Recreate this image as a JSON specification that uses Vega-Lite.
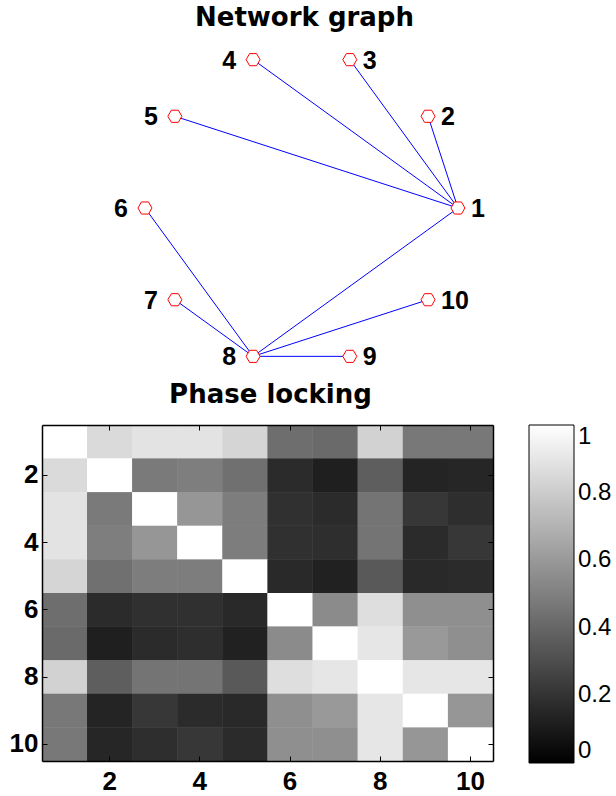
{
  "$schema": "https://vega.github.io/schema/vega-lite/v6.json",
  "padding": {"left": 8, "top": 5, "right": 2, "bottom": 0},
  "background": "white",
  "datasets": {
    "nodes": [
      {"id": 1, "x": 1, "y": 0},
      {"id": 2, "x": 0.809, "y": 0.588},
      {"id": 3, "x": 0.309, "y": 0.951},
      {"id": 4, "x": -0.309, "y": 0.951},
      {"id": 5, "x": -0.809, "y": 0.588},
      {"id": 6, "x": -1, "y": 0},
      {"id": 7, "x": -0.809, "y": -0.588},
      {"id": 8, "x": -0.309, "y": -0.951},
      {"id": 9, "x": 0.309, "y": -0.951},
      {"id": 10, "x": 0.809, "y": -0.588}
    ],
    "edges": [
      {"source": 1, "target": 2, "sx": 1, "sy": 0, "tx": 0.809, "ty": 0.588},
      {"source": 1, "target": 3, "sx": 1, "sy": 0, "tx": 0.309, "ty": 0.951},
      {"source": 1, "target": 4, "sx": 1, "sy": 0, "tx": -0.309, "ty": 0.951},
      {"source": 1, "target": 5, "sx": 1, "sy": 0, "tx": -0.809, "ty": 0.588},
      {"source": 1, "target": 8, "sx": 1, "sy": 0, "tx": -0.309, "ty": -0.951},
      {"source": 8, "target": 6, "sx": -0.309, "sy": -0.951, "tx": -1, "ty": 0},
      {"source": 8, "target": 7, "sx": -0.309, "sy": -0.951, "tx": -0.809, "ty": -0.588},
      {"source": 8, "target": 9, "sx": -0.309, "sy": -0.951, "tx": 0.309, "ty": -0.951},
      {"source": 8, "target": 10, "sx": -0.309, "sy": -0.951, "tx": 0.809, "ty": -0.588}
    ],
    "pl": [
      {"r":1,"c":1,"v":1},{"r":1,"c":2,"v":0.855},{"r":1,"c":3,"v":0.89},{"r":1,"c":4,"v":0.89},{"r":1,"c":5,"v":0.835},{"r":1,"c":6,"v":0.43},{"r":1,"c":7,"v":0.415},{"r":1,"c":8,"v":0.825},{"r":1,"c":9,"v":0.47},{"r":1,"c":10,"v":0.47},
      {"r":2,"c":1,"v":0.855},{"r":2,"c":2,"v":1},{"r":2,"c":3,"v":0.48},{"r":2,"c":4,"v":0.495},{"r":2,"c":5,"v":0.44},{"r":2,"c":6,"v":0.17},{"r":2,"c":7,"v":0.12},{"r":2,"c":8,"v":0.37},{"r":2,"c":9,"v":0.14},{"r":2,"c":10,"v":0.15},
      {"r":3,"c":1,"v":0.89},{"r":3,"c":2,"v":0.48},{"r":3,"c":3,"v":1},{"r":3,"c":4,"v":0.59},{"r":3,"c":5,"v":0.49},{"r":3,"c":6,"v":0.19},{"r":3,"c":7,"v":0.17},{"r":3,"c":8,"v":0.455},{"r":3,"c":9,"v":0.215},{"r":3,"c":10,"v":0.18},
      {"r":4,"c":1,"v":0.89},{"r":4,"c":2,"v":0.495},{"r":4,"c":3,"v":0.59},{"r":4,"c":4,"v":1},{"r":4,"c":5,"v":0.49},{"r":4,"c":6,"v":0.19},{"r":4,"c":7,"v":0.18},{"r":4,"c":8,"v":0.455},{"r":4,"c":9,"v":0.17},{"r":4,"c":10,"v":0.215},
      {"r":5,"c":1,"v":0.835},{"r":5,"c":2,"v":0.44},{"r":5,"c":3,"v":0.49},{"r":5,"c":4,"v":0.49},{"r":5,"c":5,"v":1},{"r":5,"c":6,"v":0.16},{"r":5,"c":7,"v":0.13},{"r":5,"c":8,"v":0.35},{"r":5,"c":9,"v":0.16},{"r":5,"c":10,"v":0.17},
      {"r":6,"c":1,"v":0.43},{"r":6,"c":2,"v":0.17},{"r":6,"c":3,"v":0.19},{"r":6,"c":4,"v":0.19},{"r":6,"c":5,"v":0.16},{"r":6,"c":6,"v":1},{"r":6,"c":7,"v":0.545},{"r":6,"c":8,"v":0.87},{"r":6,"c":9,"v":0.56},{"r":6,"c":10,"v":0.56},
      {"r":7,"c":1,"v":0.415},{"r":7,"c":2,"v":0.12},{"r":7,"c":3,"v":0.17},{"r":7,"c":4,"v":0.18},{"r":7,"c":5,"v":0.13},{"r":7,"c":6,"v":0.545},{"r":7,"c":7,"v":1},{"r":7,"c":8,"v":0.9},{"r":7,"c":9,"v":0.6},{"r":7,"c":10,"v":0.56},
      {"r":8,"c":1,"v":0.825},{"r":8,"c":2,"v":0.37},{"r":8,"c":3,"v":0.455},{"r":8,"c":4,"v":0.455},{"r":8,"c":5,"v":0.35},{"r":8,"c":6,"v":0.87},{"r":8,"c":7,"v":0.9},{"r":8,"c":8,"v":1},{"r":8,"c":9,"v":0.9},{"r":8,"c":10,"v":0.9},
      {"r":9,"c":1,"v":0.47},{"r":9,"c":2,"v":0.14},{"r":9,"c":3,"v":0.215},{"r":9,"c":4,"v":0.17},{"r":9,"c":5,"v":0.16},{"r":9,"c":6,"v":0.56},{"r":9,"c":7,"v":0.6},{"r":9,"c":8,"v":0.9},{"r":9,"c":9,"v":1},{"r":9,"c":10,"v":0.59},
      {"r":10,"c":1,"v":0.47},{"r":10,"c":2,"v":0.15},{"r":10,"c":3,"v":0.18},{"r":10,"c":4,"v":0.215},{"r":10,"c":5,"v":0.17},{"r":10,"c":6,"v":0.56},{"r":10,"c":7,"v":0.56},{"r":10,"c":8,"v":0.9},{"r":10,"c":9,"v":0.59},{"r":10,"c":10,"v":1}
    ]
  },
  "vconcat": [
    {
      "width": 451,
      "height": 336,
      "view": {"stroke": null},
      "title": {"text": "Network graph", "font": "DejaVu Sans", "fontWeight": "bold", "fontSize": 26, "color": "#000", "anchor": "middle", "baseline": "alphabetic", "offset": -12, "dx": 37},
      "layer": [
        {
          "data": {"name": "edges"},
          "mark": {"type": "rule", "color": "#0000ff", "strokeWidth": 1},
          "encoding": {
            "x": {"field": "sx", "type": "quantitative", "scale": {"domain": [-1.658, 1.224], "nice": false, "zero": false}, "axis": null},
            "y": {"field": "sy", "type": "quantitative", "scale": {"domain": [-1.077, 1.077], "nice": false, "zero": false}, "axis": null},
            "x2": {"field": "tx"},
            "y2": {"field": "ty"}
          }
        },
        {
          "data": {"name": "nodes"},
          "mark": {"type": "point", "shape": "M-1,0L-0.5,-0.866L0.5,-0.866L1,0L0.5,0.866L-0.5,0.866Z", "filled": true, "fill": "white", "stroke": "#ff0000", "strokeWidth": 1, "size": 196, "opacity": 1},
          "encoding": {
            "x": {"field": "x", "type": "quantitative"},
            "y": {"field": "y", "type": "quantitative"}
          }
        },
        {
          "data": {"name": "nodes"},
          "transform": [{"filter": {"field": "id", "oneOf": [1, 2, 3, 9, 10]}}],
          "mark": {"type": "text", "align": "left", "baseline": "middle", "dx": 13, "dy": 1, "font": "Liberation Sans", "fontWeight": "bold", "fontSize": 25, "color": "#000"},
          "encoding": {
            "x": {"field": "x", "type": "quantitative"},
            "y": {"field": "y", "type": "quantitative"},
            "text": {"field": "id", "type": "nominal"}
          }
        },
        {
          "data": {"name": "nodes"},
          "transform": [{"filter": {"field": "id", "oneOf": [4, 5, 6, 7, 8]}}],
          "mark": {"type": "text", "align": "right", "baseline": "middle", "dx": -17, "dy": 1, "font": "Liberation Sans", "fontWeight": "bold", "fontSize": 25, "color": "#000"},
          "encoding": {
            "x": {"field": "x", "type": "quantitative"},
            "y": {"field": "y", "type": "quantitative"},
            "text": {"field": "id", "type": "nominal"}
          }
        }
      ]
    },
    {
      "width": 451,
      "height": 336,
      "title": {"text": "Phase locking", "font": "DejaVu Sans", "fontWeight": "bold", "fontSize": 26, "color": "#000", "anchor": "middle", "baseline": "alphabetic", "offset": -4, "dx": 3},
      "data": {"name": "pl"},
      "layer": [
        {
          "mark": {"type": "rect"},
          "encoding": {
            "x": {"field": "c", "type": "ordinal", "axis": null},
            "y": {"field": "r", "type": "ordinal", "axis": null},
            "color": {
              "field": "v", "type": "quantitative",
              "scale": {"domain": [0, 1], "range": ["#000000", "#ffffff"], "interpolate": "rgb"},
              "legend": {"type": "gradient", "title": null, "orient": "right", "values": [0, 0.2, 0.4, 0.6, 0.8, 1], "format": "~g", "gradientLength": 338, "gradientThickness": 45, "gradientStrokeColor": "#000", "gradientStrokeWidth": 1, "labelFont": "Liberation Sans", "labelFontSize": 24, "labelColor": "#000", "labelBaseline": "middle", "labelOffset": 4, "offset": 35, "padding": 0}
            }
          }
        },
        {
          "mark": {"type": "rect"},
          "encoding": {
            "x": {"field": "c", "type": "ordinal", "axis": {"orient": "bottom", "zindex": 1, "values": [2, 4, 6, 8, 10], "labelAngle": 0, "domain": true, "domainColor": "#000", "domainWidth": 1.5, "tickSize": -5, "tickColor": "#000", "labelPadding": 12, "title": null}},
            "y": {"field": "r", "type": "ordinal", "axis": {"orient": "left", "zindex": 1, "values": [2, 4, 6, 8, 10], "domain": true, "domainColor": "#000", "domainWidth": 1.5, "tickSize": -5, "tickColor": "#000", "labelPadding": 9, "title": null}},
            "color": {
              "field": "v", "type": "quantitative",
              "scale": {"domain": [0, 1], "range": ["#000000", "#ffffff"], "interpolate": "rgb"},
              "legend": {"type": "gradient", "title": null, "orient": "right", "values": [0, 0.2, 0.4, 0.6, 0.8, 1], "format": "~g", "gradientLength": 338, "gradientThickness": 45, "gradientStrokeColor": "#000", "gradientStrokeWidth": 1, "labelFont": "Liberation Sans", "labelFontSize": 24, "labelColor": "#000", "labelBaseline": "middle", "labelOffset": 4, "offset": 35, "padding": 0}
            }
          }
        },
        {
          "mark": {"type": "rect", "opacity": 0},
          "encoding": {
            "x": {"field": "c", "type": "ordinal", "axis": {"orient": "top", "zindex": 1, "values": [2, 4, 6, 8, 10], "labels": false, "domain": true, "domainColor": "#000", "domainWidth": 1.5, "tickSize": -5, "tickColor": "#000", "title": null}},
            "y": {"field": "r", "type": "ordinal", "axis": {"orient": "right", "zindex": 1, "values": [2, 4, 6, 8, 10], "labels": false, "domain": true, "domainColor": "#000", "domainWidth": 1.5, "tickSize": -5, "tickColor": "#000", "title": null}}
          }
        }
      ],
      "resolve": {"axis": {"x": "independent", "y": "independent"}}
    }
  ],
  "resolve": {"scale": {"color": "independent"}, "legend": {"color": "independent"}},
  "spacing": 49,
  "bounds": "flush",
  "config": {
    "axis": {"labelFont": "Liberation Sans", "labelFontWeight": "bold", "labelFontSize": 26, "labelColor": "#000", "grid": false}
  }
}
